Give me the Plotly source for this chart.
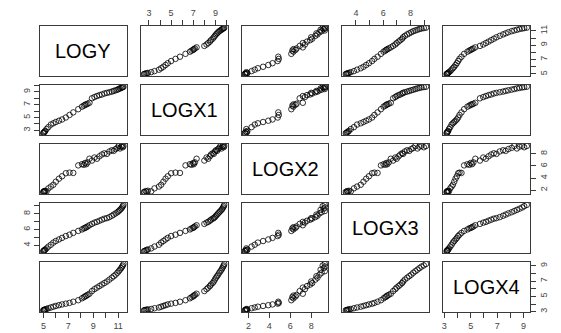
import plotly.graph_objects as go

names = ["LOGY", "LOGX1", "LOGX2", "LOGX3", "LOGX4"]

LOGY = [4.98, 5.02, 5.05, 5.10, 5.15, 5.25, 5.40, 5.60, 5.80, 6.00,
        6.25, 6.50, 6.80, 7.10, 7.40, 7.80, 8.10, 8.25, 8.35, 8.45,
        8.55, 8.70, 8.90, 9.10, 9.30, 9.50, 9.70, 9.90, 10.10, 10.30,
        10.50, 10.65, 10.80, 10.95, 11.05, 11.15, 11.25, 11.32, 11.38, 11.44]
LOGX1 = [2.55, 2.60, 2.70, 2.80, 2.90, 3.20, 3.50, 3.90, 4.10, 4.30,
         4.50, 4.70, 5.00, 5.40, 5.80, 6.30, 6.70, 6.85, 7.00, 7.05,
         7.15, 7.30, 8.00, 8.20, 8.35, 8.50, 8.60, 8.75, 8.85, 8.95,
         9.05, 9.15, 9.25, 9.35, 9.45, 9.55, 9.62, 9.70, 9.75, 9.81]
LOGX2 = [1.70, 1.65, 1.85, 1.75, 1.90, 1.80, 2.30, 2.60, 2.90, 3.40,
         3.90, 4.30, 4.80, 4.90, 4.85, 6.10, 6.30, 6.20, 6.50, 6.30,
         6.60, 7.20, 6.90, 7.40, 7.20, 7.60, 7.90, 8.10, 8.00, 8.40,
         8.60, 8.50, 8.80, 9.00, 9.30, 8.90, 9.20, 9.34, 9.10, 9.30]
LOGX3 = [3.24, 3.30, 3.35, 3.41, 3.48, 3.62, 3.85, 4.08, 4.35, 4.55,
         4.75, 4.95, 5.18, 5.35, 5.58, 5.83, 6.02, 6.15, 6.22, 6.30,
         6.40, 6.55, 6.72, 6.88, 6.98, 7.12, 7.25, 7.38, 7.45, 7.58,
         7.75, 7.90, 8.05, 8.20, 8.35, 8.50, 8.65, 8.80, 8.97, 9.13]
LOGX4 = [3.16, 3.20, 3.22, 3.25, 3.30, 3.35, 3.45, 3.55, 3.65, 3.75,
         3.85, 3.95, 4.05, 4.15, 4.30, 4.50, 4.75, 4.90, 5.00, 5.10,
         5.20, 5.35, 5.70, 5.95, 6.15, 6.35, 6.55, 6.75, 6.95, 7.20,
         7.45, 7.65, 7.85, 8.10, 8.30, 8.50, 8.70, 8.90, 9.05, 9.25]

tick_vals = {
    "LOGY": [5, 6, 7, 8, 9, 10, 11],
    "LOGX1": [3, 4, 5, 6, 7, 8, 9, 10],
    "LOGX2": [2, 4, 6, 8],
    "LOGX3": [4, 5, 6, 7, 8, 9],
    "LOGX4": [3, 4, 5, 6, 7, 8, 9],
}
tick_text = {
    "LOGY": ["5", "", "7", "", "9", "", "11"],
    "LOGX1": ["3", "", "5", "", "7", "", "9", ""],
    "LOGX2": ["2", "4", "6", "8"],
    "LOGX3": ["4", "", "6", "", "8", ""],
    "LOGX4": ["3", "", "5", "", "7", "", "9"],
}

data = {"LOGY": LOGY, "LOGX1": LOGX1, "LOGX2": LOGX2, "LOGX3": LOGX3, "LOGX4": LOGX4}

# page offset of the figure (browser default body margin)
OFF = 8
W, H = 561 - OFF, 333 - OFF
col_left = [39 - OFF, 140 - OFF, 241 - OFF, 342 - OFF, 443 - OFF]
row_top = [22 - OFF, 82 - OFF, 142 - OFF, 202 - OFF, 262 - OFF]
PW, PH = 87, 51


def rng(v):
    lo, hi = min(v), max(v)
    d = hi - lo
    return [lo - 0.04 * d, hi + 0.04 * d]


fig = go.Figure()
layout = dict(width=W, height=H, margin=dict(l=0, r=0, t=0, b=0),
              paper_bgcolor="white", plot_bgcolor="white", showlegend=False,
              font=dict(family="Liberation Sans, Arial", size=9, color="#444"))
annotations = []
n = len(names)
for r in range(n):
    for c in range(n):
        k = r * n + c + 1
        xa = "xaxis" if k == 1 else f"xaxis{k}"
        ya = "yaxis" if k == 1 else f"yaxis{k}"
        xr = "x" if k == 1 else f"x{k}"
        yr = "y" if k == 1 else f"y{k}"
        vx, vy = names[c], names[r]
        x0 = col_left[c] / W
        x1 = (col_left[c] + PW) / W
        y1 = 1 - row_top[r] / H
        y0 = 1 - (row_top[r] + PH) / H
        base = dict(showline=True, mirror=True, linecolor="#3a3a3a", linewidth=1,
                    showgrid=False, zeroline=False, ticks="", showticklabels=False,
                    fixedrange=True)
        xd = dict(base, domain=[x0, x1], range=rng(data[vx]), anchor=yr)
        yd = dict(base, domain=[y0, y1], range=rng(data[vy]), anchor=xr)
        tick_style = dict(ticks="outside", ticklen=5, tickwidth=1, tickcolor="#3a3a3a",
                          showticklabels=True, tickfont=dict(size=9, color="#444"))
        if r == 0 and c % 2 == 1:
            xd.update(tick_style, side="top", tickvals=tick_vals[vx], ticktext=tick_text[vx])
        if r == n - 1 and c % 2 == 0:
            xd.update(tick_style, side="bottom", tickvals=tick_vals[vx], ticktext=tick_text[vx])
        if c == 0 and r % 2 == 1:
            yd.update(tick_style, side="left", tickvals=tick_vals[vy], ticktext=tick_text[vy],
                      tickangle=-90)
        if c == n - 1 and r % 2 == 0:
            yd.update(tick_style, side="right", tickvals=tick_vals[vy], ticktext=tick_text[vy],
                      tickangle=-90)
        layout[xa] = xd
        layout[ya] = yd
        if r == c:
            annotations.append(dict(text=names[r], x=(x0 + x1) / 2, y=(y0 + y1) / 2,
                                    xref="paper", yref="paper", showarrow=False,
                                    xanchor="center", yanchor="middle",
                                    font=dict(family="Liberation Sans, Arial", size=20,
                                              color="black")))
            fig.add_trace(go.Scatter(x=[None], y=[None], mode="markers",
                                     xaxis=xr, yaxis=yr, hoverinfo="skip"))
        else:
            fig.add_trace(go.Scatter(x=data[vx], y=data[vy], mode="markers",
                                     xaxis=xr, yaxis=yr,
                                     marker=dict(symbol="circle-open", size=5.5, color="black",
                                                 line=dict(width=0.8, color="black")),
                                     hoverinfo="skip"))
layout["annotations"] = annotations
fig.update_layout(**layout)
fig.write_html("out.html")
